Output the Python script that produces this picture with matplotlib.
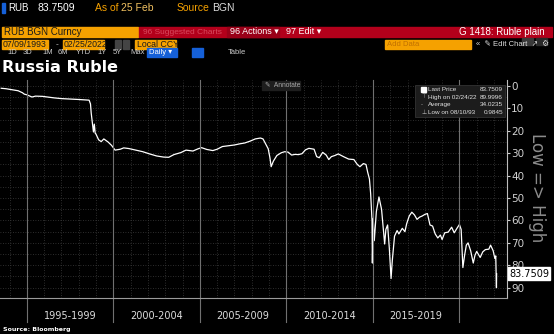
import matplotlib
matplotlib.use("Agg")
import matplotlib.pyplot as plt
from matplotlib.patches import Rectangle

# daily-ish RUB per USD (decimal years)
years = [
    1993.52, 1993.8, 1994.2, 1994.5, 1994.75, 1994.85, 1995.0, 1995.3, 1995.5, 1995.9,
    1996.3, 1996.6, 1997.0, 1997.5, 1998.0, 1998.6, 1998.68, 1998.72, 1998.78, 1998.85,
    1998.9, 1998.95, 1999.0, 1999.15, 1999.3, 1999.45, 1999.7, 1999.9, 2000.1, 2000.4,
    2000.6, 2000.9, 2001.3, 2001.7, 2002.1, 2002.5, 2002.9, 2003.2, 2003.5, 2003.9,
    2004.2, 2004.6, 2004.9, 2005.1, 2005.4, 2005.75, 2006.0, 2006.3, 2006.7, 2007.0,
    2007.3, 2007.6, 2007.9, 2008.2, 2008.5, 2008.65, 2008.8, 2008.95, 2009.05, 2009.12,
    2009.25, 2009.45, 2009.7, 2009.9, 2010.1, 2010.3, 2010.5, 2010.7, 2010.9, 2011.1,
    2011.3, 2011.6, 2011.75, 2011.9, 2012.1, 2012.3, 2012.45, 2012.6, 2012.8, 2013.0,
    2013.3, 2013.6, 2013.9, 2014.1, 2014.25, 2014.45, 2014.6, 2014.7, 2014.8, 2014.87,
    2014.95, 2014.97, 2015.02, 2015.08, 2015.2, 2015.35, 2015.5, 2015.62, 2015.68, 2015.75,
    2015.85, 2015.95, 2016.05, 2016.12, 2016.25, 2016.4, 2016.5, 2016.7, 2016.85, 2016.95,
    2017.1, 2017.25, 2017.4, 2017.55, 2017.7, 2017.85, 2018.0, 2018.15, 2018.3, 2018.45,
    2018.6, 2018.75, 2018.9, 2019.0, 2019.15, 2019.35, 2019.55, 2019.7, 2019.85, 2020.0,
    2020.1, 2020.2, 2020.3, 2020.4, 2020.5, 2020.65, 2020.8, 2020.9, 2021.0, 2021.2,
    2021.35, 2021.5, 2021.7, 2021.8, 2021.95, 2022.05, 2022.1, 2022.14, 2022.15,
]
rub = [
    0.99, 1.2, 1.7, 2.1, 3.0, 3.6, 3.9, 4.9, 4.5, 4.6,
    5.0, 5.3, 5.6, 5.8, 6.0, 6.3, 8.0, 12.0, 16.0, 20.5,
    17.0, 21.0, 21.5, 24.0, 24.8, 23.6, 25.0, 26.5, 28.6, 28.2,
    27.6, 27.9, 28.6, 29.3, 30.3, 31.2, 31.7, 31.8, 30.6, 29.7,
    28.6, 29.0, 28.0, 27.5, 28.3, 28.8, 28.2, 27.0, 26.6, 26.3,
    25.8, 25.4, 24.6, 23.6, 23.2, 23.6, 25.8, 28.0, 32.0, 36.0,
    33.5, 31.0, 29.8, 29.3, 29.5, 30.8, 30.5, 30.6, 30.2, 28.5,
    27.8, 28.2, 31.5, 32.0, 29.6, 30.8, 32.8, 31.5, 31.0, 30.3,
    31.5, 32.6, 32.8, 35.0, 36.0, 34.6, 35.0, 38.5, 41.5, 48.0,
    60.0, 79.0, 59.0, 69.0, 56.0, 49.5, 55.0, 65.0, 70.5, 64.0,
    62.0, 72.5, 85.9, 78.0, 67.0, 64.5, 66.0, 63.5, 65.0, 61.5,
    58.0, 56.3, 57.5, 59.5, 58.5, 58.0, 57.3, 56.9, 62.0, 62.5,
    66.0, 67.8, 66.5, 68.5, 65.5, 65.2, 63.0, 65.5, 63.6, 61.8,
    64.0, 81.0, 75.5, 71.0, 70.0, 73.5, 79.0, 75.5, 73.8, 76.5,
    74.0, 73.0, 72.8, 71.0, 73.5, 77.0, 75.8, 90.0, 83.75,
]
periods = ["1995-1999", "2000-2004", "2005-2009", "2010-2014", "2015-2019"]
period_starts = [1995, 2000, 2005, 2010, 2015, 2020]
y_ticks = [0, 10, 20, 30, 40, 50, 60, 70, 80, 90]
legend_rows = [
    ("Last Price", "83.7509"),
    ("High on 02/24/22", "89.9996"),
    ("Average", "34.0235"),
    ("Low on 08/10/93", "0.9845"),
]

W, H = 554, 334
ORANGE = "#f5a100"
RED = "#b3001b"
GRID = "#3c3c3c"
UI = "Liberation Sans"

fig = plt.figure(figsize=(W / 100, H / 100), dpi=100, facecolor="black")


def px(x, y):
    # pixel position -> figure fraction
    return x / W, 1 - y / H


def box(x, y, w, h, color, **kw):
    fig.patches.append(Rectangle((x / W, 1 - (y + h) / H), w / W, h / H,
                                 transform=fig.transFigure, color=color, **kw))


def label(x, y, s, size=6, color="white", family=UI, **kw):
    fig.text(*px(x, y), s, fontsize=size, color=color, va="center",
             family=[family, "DejaVu Sans"], **kw)


# header rows
box(2, 3, 3, 10, "#1560d8")
label(8, 8, "RUB", 7)
label(38, 8, "83.7509", 7.5)
label(95, 8, "As of", 7.5, ORANGE)
label(121, 8, "25 Feb", 7.5, "#f0c060")
label(177, 8, "Source", 7.5, ORANGE)
label(212, 8, "BGN", 7.5, "#dddddd")

box(2, 27, 136, 10, ORANGE)
label(4, 32, "RUB BGN Curncy", 7, "#1a1a1a")
box(139, 27, 413, 10, RED)
label(143, 32, "96 Suggested Charts", 6, "#d84a5e")
box(227, 27, 52, 10, "#9a0018")
label(230, 32, "96 Actions ▾", 6.5, "white")
label(286, 32, "97 Edit ▾", 6.5, "white")
label(545, 32, "G 1418: Ruble plain", 7, "white", ha="right")
box(522, 38, 11, 7, "#3a3a3a")
box(536, 38, 11, 7, "#2a2a2a")

box(2, 40, 46, 9, ORANGE)
label(3, 44.5, "07/09/1993", 6.3, "#1a1a1a")
label(56, 44.5, "-", 6, "#cccccc")
box(63, 40, 41, 9, ORANGE)
label(64, 44.5, "02/25/2022", 6.3, "#1a1a1a")
box(115, 40, 6, 9, "#444444")
box(123, 40, 6, 9, "#444444")
box(135, 40, 41, 9, ORANGE)
label(137, 44.5, "Local CCY", 6.3, "#1a1a1a")
box(385, 40, 86, 9, ORANGE)
label(387, 44.5, "Add Data", 5.5, "#c07000")
label(476, 44.5, "«  ✎ Edit Chart  ↗  ⚙", 5.5, "#dddddd")

for x, s in zip([7, 23, 42, 58, 76, 97, 113, 130],
                ["1D", "3D", "1M", "6M", "YTD", "1Y", "5Y", "Max"]):
    label(x, 52.5, s, 5.5, "#cccccc")
box(147, 48, 30, 9, "#1560d8")
label(149, 52.5, "Daily ▾", 5.5, "white")
box(192, 48, 11, 9, "#1560d8")
label(228, 52.5, "Table", 5.5, "#cccccc")

fig.text(*px(2, 68), "Russia Ruble", fontsize=11.5, fontweight="bold",
         color="white", va="center")
fig.text(*px(3, 329), "Source: Bloomberg", fontsize=4.5, fontweight="bold",
         color="white", va="center")

# chart area
ax = fig.add_axes([0.0, 1 - 298 / H, 507 / W, (298 - 80) / H])
ax.set_facecolor("black")
ax.plot(years, rub, color="white", lw=0.9)
ax.set_xlim(1993.45, 2022.75)
ax.set_ylim(94.6, -2.7)

ax.yaxis.tick_right()
ax.set_yticks(y_ticks)
ax.tick_params(axis="y", colors="#d0d0d0", labelsize=7.5, length=2, pad=1)
ax.set_xticks(range(1994, 2023))
ax.set_xticklabels([])
ax.tick_params(axis="x", length=0)
ax.set_yticks(range(0, 95, 5), minor=True)
ax.tick_params(axis="y", which="minor", length=0)
ax.grid(True, which="both", color=GRID, ls=(0, (1, 2)), lw=0.6)
for s in ["top", "left"]:
    ax.spines[s].set_visible(False)
ax.spines["right"].set_color("#bdbdbd")
ax.spines["bottom"].set_color("#9a9a9a")

xt = ax.get_xaxis_transform()
for x in period_starts:
    ax.plot([x, x], [-0.11, 1], transform=xt, color="#707070", lw=0.8, clip_on=False)
for i, p in enumerate(periods):
    mid = (period_starts[i] + period_starts[i + 1]) / 2
    ax.text(mid, -0.083, p, transform=xt, ha="center", va="center",
            fontsize=7, color="#dddddd")

ax.text(1.004, rub[-1], "83.7509", transform=ax.get_yaxis_transform(),
        fontsize=7, color="black", va="center", ha="left", zorder=10,
        bbox=dict(boxstyle="square,pad=0.15", fc="white", ec="white"))

fig.text(*px(537, 188), "Low => High", fontsize=12, color="#8c8c8c",
         rotation=270, ha="center", va="center")

# legend box
box(415, 85, 90, 32, "#1c1c1c", ec="#3a3a3a", lw=0.5)
box(421, 87, 5, 5, "white")
marks = ["", "⊤", "-", "⊥"]
for i, (name, val) in enumerate(legend_rows):
    yy = 89.5 + i * 7.6
    if marks[i]:
        label(421, yy, marks[i], 4.3, "#bbbbbb")
    label(428, yy, name, 4.6, "#e0e0e0")
    label(503, yy, val, 4.6, "#e0e0e0", ha="right")

# annotate button
box(262, 81, 38, 9, "#1e1e1e")
label(265, 85.5, "✎  Annotate", 4.8, "#aaaaaa")

fig.savefig("out.png", dpi=100, facecolor="black")
